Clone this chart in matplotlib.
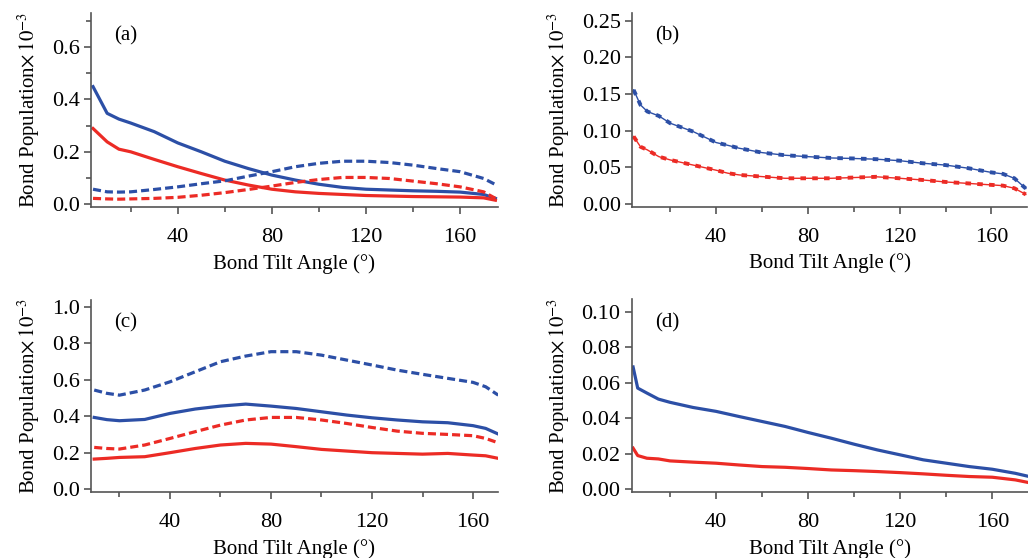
import numpy as np
import matplotlib
matplotlib.use('Agg')
import matplotlib.pyplot as plt
from matplotlib.ticker import FormatStrFormatter

plt.rcParams['font.family'] = ['Liberation Serif', 'DejaVu Serif']
plt.rcParams['mathtext.fontset'] = 'stix'
plt.rcParams['lines.scale_dashes'] = False

BLUE = '#2c4fa6'
RED = '#ec2b25'
AXC = '#555555'

# panel (a)
xa = [4, 10, 15, 20, 30, 40, 50, 60, 70, 80, 90, 100, 110, 120, 130, 140, 150, 160, 170, 175]
a_blue = [0.449, 0.347, 0.325, 0.310, 0.277, 0.234, 0.200, 0.164, 0.136, 0.111, 0.092, 0.076, 0.064, 0.057, 0.054, 0.051, 0.049, 0.046, 0.037, 0.022]
a_red = [0.289, 0.238, 0.210, 0.200, 0.171, 0.143, 0.117, 0.092, 0.073, 0.057, 0.047, 0.041, 0.037, 0.033, 0.031, 0.029, 0.028, 0.027, 0.024, 0.015]
a_blue_d = [0.057, 0.047, 0.046, 0.047, 0.056, 0.066, 0.078, 0.089, 0.107, 0.124, 0.143, 0.156, 0.164, 0.164, 0.159, 0.149, 0.136, 0.124, 0.098, 0.075]
a_red_d = [0.022, 0.020, 0.019, 0.020, 0.022, 0.026, 0.034, 0.044, 0.056, 0.069, 0.083, 0.094, 0.102, 0.102, 0.098, 0.088, 0.078, 0.066, 0.047, 0.022]

# panel (b)
xb = [4, 7, 10, 15, 20, 30, 40, 45, 50, 60, 70, 80, 90, 100, 110, 120, 130, 140, 150, 160, 165, 170, 175]
b_blue = [0.1555, 0.135, 0.126, 0.120, 0.110, 0.0986, 0.0837, 0.080, 0.076, 0.070, 0.0664, 0.0645, 0.0627, 0.062, 0.061, 0.059, 0.0555, 0.053, 0.0487, 0.043, 0.041, 0.035, 0.021]
b_red = [0.092, 0.078, 0.0737, 0.0645, 0.060, 0.053, 0.046, 0.042, 0.0396, 0.0373, 0.035, 0.035, 0.035, 0.036, 0.037, 0.035, 0.0327, 0.030, 0.028, 0.026, 0.025, 0.0214, 0.013]

# panel (c)
xc = [10, 15, 20, 30, 40, 50, 60, 70, 80, 90, 100, 110, 120, 130, 140, 150, 160, 165, 170]
c_blue_d = [0.544, 0.526, 0.516, 0.544, 0.589, 0.644, 0.699, 0.730, 0.754, 0.754, 0.735, 0.708, 0.681, 0.653, 0.630, 0.608, 0.586, 0.562, 0.516]
c_blue = [0.394, 0.382, 0.376, 0.383, 0.416, 0.440, 0.456, 0.467, 0.456, 0.443, 0.425, 0.407, 0.392, 0.380, 0.370, 0.365, 0.349, 0.334, 0.303]
c_red_d = [0.230, 0.224, 0.221, 0.243, 0.279, 0.316, 0.352, 0.380, 0.394, 0.394, 0.380, 0.361, 0.339, 0.319, 0.307, 0.301, 0.294, 0.279, 0.255]
c_red = [0.166, 0.170, 0.175, 0.179, 0.201, 0.224, 0.243, 0.252, 0.248, 0.234, 0.219, 0.210, 0.201, 0.197, 0.193, 0.197, 0.188, 0.184, 0.170]

# panel (d)
xd = [4, 6, 10, 15, 20, 30, 40, 50, 60, 70, 80, 90, 100, 110, 120, 130, 140, 150, 160, 170, 175]
d_blue = [0.0689, 0.057, 0.0542, 0.0508, 0.049, 0.0461, 0.0439, 0.041, 0.0382, 0.0354, 0.032, 0.0288, 0.0254, 0.0222, 0.0194, 0.0166, 0.0147, 0.0128, 0.0113, 0.009, 0.0075]
d_red = [0.0232, 0.019, 0.0175, 0.0171, 0.016, 0.0153, 0.0147, 0.0137, 0.0128, 0.0124, 0.0117, 0.0109, 0.0105, 0.010, 0.0094, 0.0087, 0.0079, 0.0072, 0.0068, 0.0053, 0.004]

xticks = [40, 80, 120, 160]
xminor = [20, 60, 100, 140]


def style_axes(ax, tag, yticks, yminor, fmt, xlim, ylim):
    for s in ['top', 'right']:
        ax.spines[s].set_visible(False)
    for s in ['left', 'bottom']:
        ax.spines[s].set_color(AXC)
        ax.spines[s].set_linewidth(1.2)
    ax.set_xlim(*xlim)
    ax.set_ylim(*ylim)
    ax.set_xticks(xticks)
    ax.set_xticks(xminor, minor=True)
    ax.set_yticks(yticks)
    if yminor:
        ax.set_yticks(yminor, minor=True)
    ax.yaxis.set_major_formatter(FormatStrFormatter(fmt))
    ax.tick_params(which='major', length=5, width=1.2, color=AXC, labelsize=16, pad=3)
    ax.tick_params(axis='x', which='major', pad=10)
    ax.tick_params(which='minor', length=3.5, width=1.2, color=AXC)
    ax.set_xlabel('Bond Tilt Angle (°)', fontsize=15, labelpad=5)
    ax.set_ylabel(r'Bond Population$\times\,10^{-3}$', fontsize=15, labelpad=7)
    ax.text(0.058, 0.88, tag, transform=ax.transAxes, fontsize=15, va='center', ha='left')


fig = plt.figure(figsize=(10.28, 5.58), dpi=100)

ax1 = fig.add_axes([0.0882, 0.629, 0.396, 0.348])
ax1.plot(xa, a_blue, color=BLUE, lw=2.3)
ax1.plot(xa, a_red, color=RED, lw=2.3)
ax1.plot(xa, a_blue_d, color=BLUE, lw=2.3, dashes=(5.8, 2.9))
ax1.plot(xa, a_red_d, color=RED, lw=2.3, dashes=(5.8, 2.9))
style_axes(ax1, '(a)', [0, 0.2, 0.4, 0.6], [0.1, 0.3, 0.5, 0.7], '%.1f', (3, 176), (-0.011, 0.731))

ax2 = fig.add_axes([0.615, 0.6296, 0.384, 0.3474])
ax2.plot(xb, b_blue, color=BLUE, lw=1.0)
ax2.plot(xb, b_red, color=RED, lw=1.0)
ax2.plot(xb, b_blue, color=BLUE, lw=2.8, dashes=(4, 4.5))
ax2.plot(xb, b_red, color=RED, lw=2.8, dashes=(4, 4.5))
style_axes(ax2, '(b)', [0, 0.05, 0.10, 0.15, 0.20, 0.25], None, '%.2f', (3.4, 175.5), (-0.0037, 0.2605))

ax3 = fig.add_axes([0.0882, 0.1177, 0.3965, 0.3447])
ax3.plot(xc, c_blue_d, color=BLUE, lw=2.3, dashes=(5.8, 2.9))
ax3.plot(xc, c_blue, color=BLUE, lw=2.3)
ax3.plot(xc, c_red_d, color=RED, lw=2.3, dashes=(5.8, 2.9))
ax3.plot(xc, c_red, color=RED, lw=2.3)
style_axes(ax3, '(c)', [0, 0.2, 0.4, 0.6, 0.8, 1.0], None, '%.1f', (8.6, 170), (-0.016, 1.037))

ax4 = fig.add_axes([0.6145, 0.1177, 0.3855, 0.3459])
ax4.plot(xd, d_blue, color=BLUE, lw=2.3)
ax4.plot(xd, d_red, color=RED, lw=2.3)
style_axes(ax4, '(d)', [0, 0.02, 0.04, 0.06, 0.08, 0.10], None, '%.2f', (3.4, 175.5), (-0.0017, 0.107))

fig.savefig('out.png', dpi=100)
